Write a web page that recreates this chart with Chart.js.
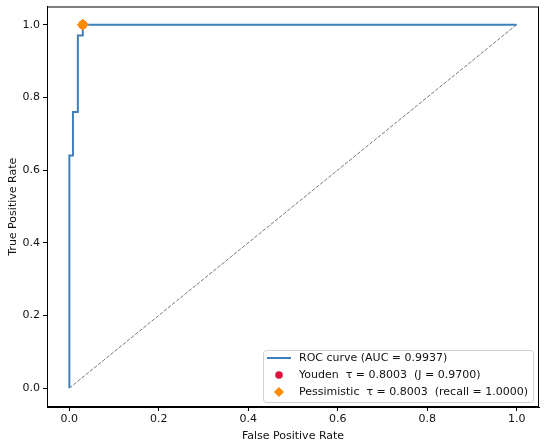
<!DOCTYPE html>
<html>
<head>
<meta charset="utf-8">
<script src="https://cdn.jsdelivr.net/npm/chart.js@4"></script>
<style>
  html, body { margin: 0; padding: 0; background: #fff; }
  #wrap { width: 546px; height: 445px; position: relative; }
</style>
</head>
<body>
<div id="wrap"><canvas id="roc"></canvas></div>
<script>
// Datos de la curva ROC (escalonada)
const fpr = [0, 0, 0.008, 0.008, 0.019, 0.019, 0.03, 0.03, 1.0];
const tpr = [0, 0.64, 0.64, 0.76, 0.76, 0.97, 0.97, 1.0, 1.0];
const chanceX = [0, 1];
const chanceY = [0, 1];
const youdenPoint = { x: 0.03, y: 1.0 };
const pessimisticPoint = { x: 0.03, y: 1.0 };
const tickValues = [0, 0.2, 0.4, 0.6, 0.8, 1.0];
const legendLabels = [
  'ROC curve (AUC = 0.9937)',
  'Youden  \u03c4 = 0.8003  (J = 0.9700)',
  'Pessimistic  \u03c4 = 0.8003  (recall = 1.0000)'
];

const FONT = 'DejaVu Sans';
const BLUE = '#3f7fba';
const RED = '#dc143c';
const ORANGE = '#ff8c00';

// Marco completo alrededor del área del gráfico + leyenda interior
const framePlugin = {
  id: 'frame',
  afterDraw(chart) {
    const { ctx, chartArea: a } = chart;
    ctx.save();
    ctx.strokeStyle = '#000';
    ctx.lineWidth = 1;
    ctx.strokeRect(a.left + 0.5, a.top + 0.5, a.right - a.left - 1, a.bottom - a.top - 1);

    // leyenda abajo a la derecha
    const bx = 263, by = 350, bw = 270, bh = 52;
    ctx.fillStyle = 'rgba(255,255,255,0.85)';
    ctx.strokeStyle = '#d0d0d0';
    ctx.beginPath();
    ctx.roundRect(bx + 0.5, by + 0.5, bw, bh, 3);
    ctx.fill();
    ctx.stroke();

    const rows = [358, 375, 392];
    // línea
    ctx.strokeStyle = BLUE;
    ctx.lineWidth = 2;
    ctx.beginPath();
    ctx.moveTo(267, rows[0]);
    ctx.lineTo(291, rows[0]);
    ctx.stroke();
    // círculo
    ctx.fillStyle = RED;
    ctx.beginPath();
    ctx.arc(279, rows[1], 3.8, 0, Math.PI * 2);
    ctx.fill();
    // rombo
    ctx.fillStyle = ORANGE;
    ctx.beginPath();
    ctx.moveTo(279, rows[2] - 5);
    ctx.lineTo(284, rows[2]);
    ctx.lineTo(279, rows[2] + 5);
    ctx.lineTo(274, rows[2]);
    ctx.closePath();
    ctx.fill();

    ctx.fillStyle = '#111';
    ctx.font = '11px ' + FONT;
    ctx.textBaseline = 'middle';
    legendLabels.forEach((t, i) => ctx.fillText(t, 299, rows[i]));
    ctx.restore();
  }
};

const ctx = document.getElementById('roc').getContext('2d');
const chart = new Chart(ctx, {
  type: 'scatter',
  data: {
    datasets: [
      {
        label: 'chance',
        data: chanceX.map((x, i) => ({ x, y: chanceY[i] })),
        showLine: true,
        borderColor: '#777',
        borderWidth: 1,
        borderDash: [3.7, 1.6],
        pointRadius: 0,
        order: 3
      },
      {
        label: legendLabels[0],
        data: fpr.map((x, i) => ({ x, y: tpr[i] })),
        showLine: true,
        borderColor: BLUE,
        borderWidth: 2,
        pointRadius: 0,
        order: 2
      },
      {
        label: legendLabels[1],
        data: [youdenPoint],
        backgroundColor: RED,
        borderColor: RED,
        pointRadius: 4,
        order: 1
      },
      {
        label: legendLabels[2],
        data: [pessimisticPoint],
        pointStyle: 'rectRot',
        backgroundColor: ORANGE,
        borderColor: ORANGE,
        pointRadius: 5.5,
        order: 0
      }
    ]
  },
  options: {
    responsive: true,
    maintainAspectRatio: false,
    animation: false,
    layout: { padding: { top: 6, right: 7, left: 7, bottom: 0 } },
    plugins: {
      legend: { display: false },
      tooltip: { enabled: false }
    },
    scales: {
      x: {
        type: 'linear',
        min: -0.05,
        max: 1.05,
        afterBuildTicks: s => { s.ticks = tickValues.map(v => ({ value: v })); },
        afterFit: s => { s.height = 38; s.paddingLeft = 0; s.paddingRight = 0; },
        grid: { display: true, drawOnChartArea: false, drawTicks: true, tickLength: 4, color: '#000' },
        border: { display: true, color: '#000' },
        ticks: {
          color: '#111',
          font: { family: FONT, size: 11 },
          padding: 2,
          maxRotation: 0,
          callback: v => v.toFixed(1)
        },
        title: {
          display: true,
          text: 'False Positive Rate',
          color: '#111',
          font: { family: FONT, size: 11 },
          padding: { top: 0, bottom: 2 }
        }
      },
      y: {
        type: 'linear',
        min: -0.052,
        max: 1.05,
        afterBuildTicks: s => { s.ticks = tickValues.map(v => ({ value: v })); },
        afterFit: s => { s.width = 40; s.paddingTop = 0; s.paddingBottom = 0; },
        grid: { display: true, drawOnChartArea: false, drawTicks: true, tickLength: 4, color: '#000' },
        border: { display: true, color: '#000' },
        ticks: {
          color: '#111',
          font: { family: FONT, size: 11 },
          padding: 3,
          callback: v => v.toFixed(1)
        },
        title: {
          display: true,
          text: 'True Positive Rate',
          color: '#111',
          font: { family: FONT, size: 11 },
          padding: { top: 0, bottom: 2 }
        }
      }
    }
  },
  plugins: [framePlugin]
});
</script>
</body>
</html>
